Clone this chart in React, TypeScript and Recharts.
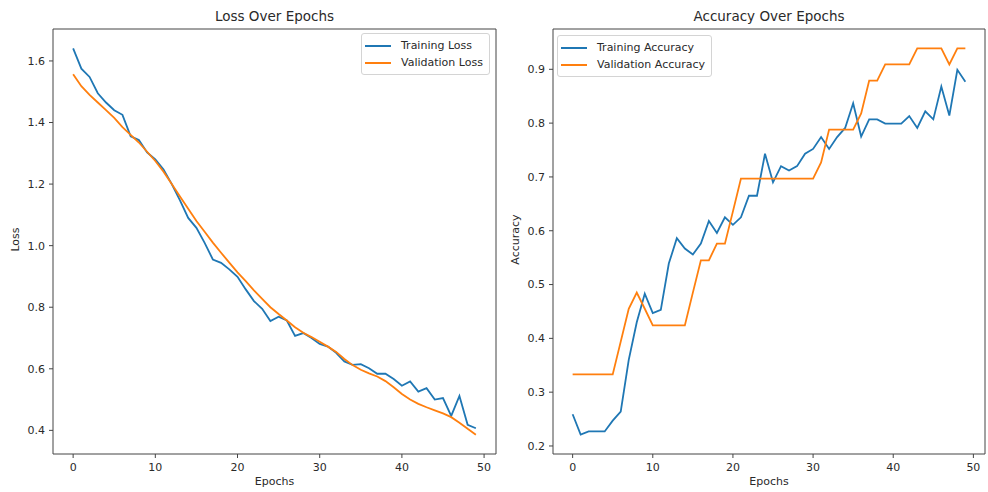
import { LineChart, Line, XAxis, YAxis, ReferenceArea, Legend } from 'recharts';

const BLUE = '#1f77b4';
const ORANGE = '#ff7f0e';
const TEXT = '#2a2a2a';
const SPINE = '#444';

const epochs = Array.from({ length: 50 }, (_, i) => i);

const trainLoss = [
  1.641, 1.575, 1.548, 1.495, 1.465, 1.44, 1.425, 1.355, 1.343, 1.303,
  1.28, 1.247, 1.2, 1.147, 1.09, 1.058, 1.009, 0.955, 0.944, 0.923,
  0.899, 0.858, 0.82, 0.795, 0.755, 0.769, 0.757, 0.707, 0.716, 0.7,
  0.681, 0.672, 0.652, 0.624, 0.613, 0.615, 0.602, 0.584, 0.584, 0.567,
  0.545, 0.559, 0.526, 0.537, 0.5, 0.505, 0.447, 0.512, 0.418, 0.407,
];

const valLoss = [
  1.557, 1.518, 1.49, 1.465, 1.44, 1.415, 1.385, 1.36, 1.335, 1.305,
  1.275, 1.24, 1.2, 1.16, 1.12, 1.08, 1.045, 1.01, 0.977, 0.945,
  0.913, 0.885, 0.855, 0.827, 0.8, 0.778, 0.757, 0.735, 0.717, 0.703,
  0.688, 0.672, 0.655, 0.632, 0.612, 0.597, 0.585, 0.575, 0.56, 0.54,
  0.518, 0.5, 0.486, 0.475, 0.465, 0.455, 0.443, 0.425, 0.405, 0.386,
];

const trainAcc = [
  0.259, 0.221, 0.227, 0.227, 0.227, 0.247, 0.264, 0.36, 0.43, 0.483,
  0.447, 0.453, 0.539, 0.586, 0.567, 0.556, 0.576, 0.618, 0.596, 0.625,
  0.611, 0.625, 0.665, 0.665, 0.743, 0.69, 0.72, 0.712, 0.72, 0.743,
  0.752, 0.774, 0.752, 0.774, 0.791, 0.837, 0.775, 0.807, 0.807, 0.799,
  0.799, 0.799, 0.813, 0.791, 0.822, 0.807, 0.868, 0.814, 0.899, 0.877,
];

const valAcc = [
  0.333, 0.333, 0.333, 0.333, 0.333, 0.333, 0.394, 0.455, 0.485, 0.455,
  0.424, 0.424, 0.424, 0.424, 0.424, 0.485, 0.545, 0.545, 0.576, 0.576,
  0.636, 0.697, 0.697, 0.697, 0.697, 0.697, 0.697, 0.697, 0.697, 0.697,
  0.697, 0.727, 0.788, 0.788, 0.788, 0.788, 0.818, 0.879, 0.879, 0.909,
  0.909, 0.909, 0.909, 0.939, 0.939, 0.939, 0.939, 0.909, 0.939, 0.939,
];

const epochTicks = [0, 10, 20, 30, 40, 50];
const lossTicks = [0.4, 0.6, 0.8, 1.0, 1.2, 1.4, 1.6];
const accTicks = [0.2, 0.3, 0.4, 0.5, 0.6, 0.7, 0.8, 0.9];

// matplotlib-style 5% margins
function padDomain(values: number[]): [number, number] {
  const lo = Math.min(...values);
  const hi = Math.max(...values);
  const pad = (hi - lo) * 0.05;
  return [lo - pad, hi + pad];
}

const lossData = epochs.map((e, i) => ({ epoch: e, train: trainLoss[i], val: valLoss[i] }));
const accData = epochs.map((e, i) => ({ epoch: e, train: trainAcc[i], val: valAcc[i] }));

interface LegendItem {
  label: string;
  color: string;
}

function LegendBox({ items }: { items: LegendItem[] }) {
  return (
    <div
      style={{
        border: '1px solid #d4d4d4',
        borderRadius: 3,
        background: 'rgba(255,255,255,0.8)',
        padding: '3px 6px 3px 3px',
        fontSize: 11,
        color: TEXT,
        whiteSpace: 'nowrap',
      }}
    >
      {items.map((it) => (
        <div key={it.label} style={{ display: 'flex', alignItems: 'center', height: 17 }}>
          <span style={{ display: 'block', width: 26, height: 2, background: it.color, marginRight: 10 }} />
          <span>{it.label}</span>
        </div>
      ))}
    </div>
  );
}

interface PanelProps {
  left: number;
  width: number;
  plotWidth: number;
  title: string;
  yLabel: string;
  data: { epoch: number; train: number; val: number }[];
  yTicks: number[];
  yDomain: [number, number];
  trainName: string;
  valName: string;
  legendLeft: number;
  legendTop: number;
}

function Panel({ left, width, plotWidth, title, yLabel, data, yTicks, yDomain, trainName, valName, legendLeft, legendTop }: PanelProps) {
  const margin = { top: 29, right: width - 53 - plotWidth, bottom: 8, left: 13 };
  const xDomain = padDomain(epochs);
  const center = 53 + plotWidth / 2;
  return (
    <div style={{ position: 'absolute', left, top: 0, width, height: 492 }}>
      <div style={{ position: 'absolute', left: center - 150, width: 300, top: 8, textAlign: 'center', fontSize: 13.5, color: TEXT }}>
        {title}
      </div>
      <div
        style={{
          position: 'absolute',
          left: 15 - 60,
          width: 120,
          top: 233,
          textAlign: 'center',
          fontSize: 11,
          color: TEXT,
          transform: 'rotate(-90deg)',
        }}
      >
        {yLabel}
      </div>
      <div style={{ position: 'absolute', left: center - 60, width: 120, top: 475, textAlign: 'center', fontSize: 11, color: TEXT }}>
        Epochs
      </div>
      <LineChart width={width} height={492} data={data} margin={margin}>
        <XAxis
          dataKey="epoch"
          type="number"
          domain={xDomain}
          ticks={epochTicks}
          allowDataOverflow
          interval={0}
          axisLine={false}
          tickLine={{ stroke: SPINE }}
          tickSize={4}
          tickMargin={5}
          height={30}
          tick={{ fontSize: 11, fill: TEXT }}
        />
        <YAxis
          type="number"
          domain={yDomain}
          ticks={yTicks}
          allowDataOverflow
          interval={0}
          axisLine={false}
          tickLine={{ stroke: SPINE }}
          tickSize={4}
          tickMargin={4}
          width={40}
          tick={{ fontSize: 11, fill: TEXT }}
          tickFormatter={(v: number) => v.toFixed(1)}
        />
        <Line type="linear" dataKey="train" name={trainName} stroke={BLUE} strokeWidth={1.8} dot={false} isAnimationActive={false} />
        <Line type="linear" dataKey="val" name={valName} stroke={ORANGE} strokeWidth={1.8} dot={false} isAnimationActive={false} />
        <ReferenceArea
          x1={xDomain[0]}
          x2={xDomain[1]}
          y1={yDomain[0]}
          y2={yDomain[1]}
          fill="none"
          stroke={SPINE}
          strokeWidth={1}
          ifOverflow="visible"
        />
        <Legend
          layout="horizontal"
          verticalAlign="middle"
          align="center"
          wrapperStyle={{ left: legendLeft, top: legendTop, width: 'auto', height: 'auto' }}
          content={() => (
            <LegendBox
              items={[
                { label: trainName, color: BLUE },
                { label: valName, color: ORANGE },
              ]}
            />
          )}
        />
      </LineChart>
    </div>
  );
}

export default function App() {
  return (
    <div
      style={{
        position: 'absolute',
        left: 0,
        top: 0,
        width: 988,
        height: 492,
        background: '#fff',
        fontFamily: '"DejaVu Sans", sans-serif',
      }}
    >
      <Panel
        left={0}
        width={500}
        plotWidth={443}
        title="Loss Over Epochs"
        yLabel="Loss"
        data={lossData}
        yTicks={lossTicks}
        yDomain={padDomain([...trainLoss, ...valLoss])}
        trainName="Training Loss"
        valName="Validation Loss"
        legendLeft={361}
        legendTop={33}
      />
      <Panel
        left={500}
        width={488}
        plotWidth={432}
        title="Accuracy Over Epochs"
        yLabel="Accuracy"
        data={accData}
        yTicks={accTicks}
        yDomain={padDomain([...trainAcc, ...valAcc])}
        trainName="Training Accuracy"
        valName="Validation Accuracy"
        legendLeft={57}
        legendTop={35}
      />
    </div>
  );
}
